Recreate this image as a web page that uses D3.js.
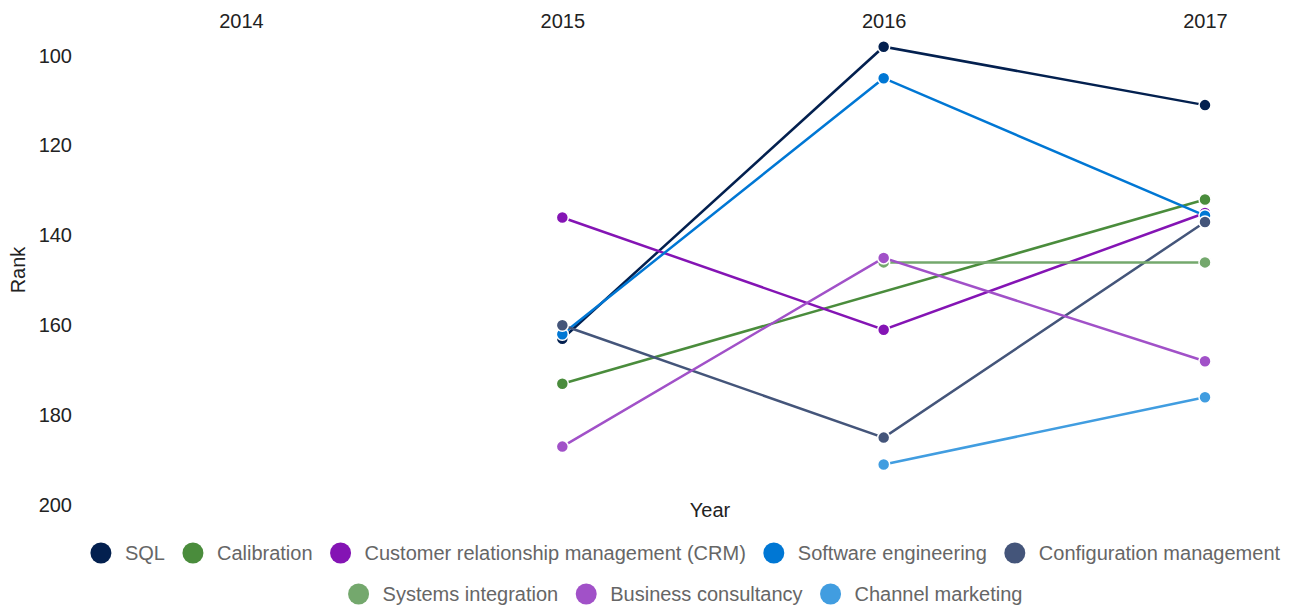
<!DOCTYPE html>
<html>
<head>
<meta charset="utf-8">
<script src="https://cdn.jsdelivr.net/npm/d3@7"></script>
<style>
  body { margin: 0; background: #fff; }
  text { font-family: "Liberation Sans", Arial, sans-serif; }
</style>
</head>
<body>
<script>
var width = 1290, height = 608

var years = [2014, 2015, 2016, 2017]
var yTicks = [100, 120, 140, 160, 180, 200]

var names = ["SQL", "Calibration", "Customer relationship management (CRM)", "Software engineering",
  "Configuration management", "Systems integration", "Business consultancy", "Channel marketing"]
var colors = ["#03204f", "#4a8c3c", "#8414b4", "#0077d4", "#44557a", "#74a86d", "#a151c8", "#419de0"]

// rank per year, null = no data
var sql        = [null, 163, 98, 111]
var calibration = [null, 173, null, 132]
var crm        = [null, 136, 161, 135]
var softEng    = [null, 162, 105, 135.6]
var configMgmt = [null, 160, 185, 137]
var sysInt     = [null, null, 146, 146]
var bizCons    = [null, 187, 145, 168]
var channel    = [null, null, 191, 176]

var series = [sql, calibration, crm, softEng, configMgmt, sysInt, bizCons, channel]

var x = d3.scalePoint().domain(years).range([241, 1205])
var y = d3.scaleLinear().domain([100, 200]).range([55.7, 505])

var svg = d3.select("body").append("svg")
    .attr("width", width)
    .attr("height", height)

// y axis
var yAxis = svg.append("g")
    .attr("transform", "translate(72,0)")
    .call(d3.axisLeft(y).tickValues(yTicks).tickSize(0).tickPadding(0))
yAxis.select(".domain").remove()
yAxis.selectAll("text")
    .attr("font-size", 20)
    .attr("fill", "#222")
    .attr("font-family", "Liberation Sans, Arial, sans-serif")

// x axis on top
var xAxis = svg.append("g")
    .attr("transform", "translate(0,28)")
    .call(d3.axisTop(x).tickSize(0).tickPadding(0))
xAxis.select(".domain").remove()
xAxis.selectAll("text")
    .attr("font-size", 20)
    .attr("fill", "#222")
    .attr("font-family", "Liberation Sans, Arial, sans-serif")

svg.append("text")
    .text("Rank")
    .attr("transform", "translate(25,270) rotate(-90)")
    .attr("text-anchor", "middle")
    .attr("font-size", 20)
    .attr("fill", "#222")

svg.append("text")
    .text("Year")
    .attr("x", 710)
    .attr("y", 517)
    .attr("text-anchor", "middle")
    .attr("font-size", 20)
    .attr("fill", "#222")

var line = d3.line()
    .x(function(d) { return x(d.year) })
    .y(function(d) { return y(d.rank) })

series.forEach(function(vals, i) {
  var pts = years.map(function(yr, j) { return {year: yr, rank: vals[j]} })
      .filter(function(d) { return d.rank != null })
  var g = svg.append("g")
  g.append("path")
      .datum(pts)
      .attr("d", line)
      .attr("fill", "none")
      .attr("stroke", colors[i])
      .attr("stroke-width", 2.5)
  g.selectAll("circle")
      .data(pts)
    .enter().append("circle")
      .attr("cx", function(d) { return x(d.year) })
      .attr("cy", function(d) { return y(d.rank) })
      .attr("r", 6)
      .attr("fill", colors[i])
      .attr("stroke", "#fff")
      .attr("stroke-width", 1.5)
})

// legend, two centred rows
var rows = [[0, 1, 2, 3, 4], [5, 6, 7]]
var rowY = [553, 594]
var legendCenter = 685.5

rows.forEach(function(row, r) {
  var lg = svg.append("g")
  var cursor = 0
  row.forEach(function(idx) {
    var item = lg.append("g").attr("transform", "translate(" + cursor + ",0)")
    item.append("circle")
        .attr("cx", 10)
        .attr("cy", 0)
        .attr("r", 10.5)
        .attr("fill", colors[idx])
    var t = item.append("text")
        .text(names[idx])
        .attr("x", 34)
        .attr("y", 7)
        .attr("font-size", 20)
        .attr("fill", "#666")
    cursor += 34 + t.node().getComputedTextLength() + 18
  })
  var total = cursor - 18
  lg.attr("transform", "translate(" + (legendCenter - total / 2) + "," + rowY[r] + ")")
})
</script>
</body>
</html>
